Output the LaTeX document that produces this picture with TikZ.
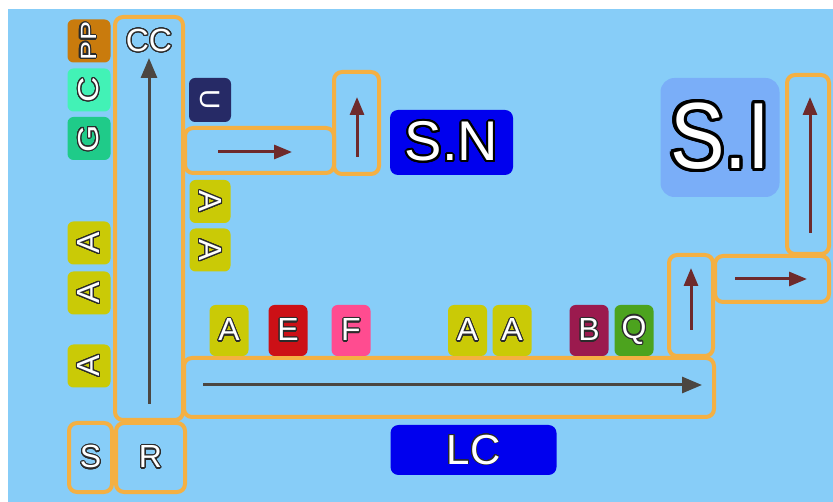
\documentclass[tikz,border=0pt]{standalone}
\usepackage{fontspec}
\setmainfont{Liberation Sans}
\usepackage{graphicx}
\usepackage[copies]{contour}
\usetikzlibrary{arrows.meta}
\contournumber{24}

\definecolor{skyback}{HTML}{87CDF8}
\definecolor{frameorange}{HTML}{F4B043}
\definecolor{outl}{HTML}{2B2B2B}
\definecolor{arrgray}{HTML}{4B4641}
\definecolor{arrred}{HTML}{6E2A2C}
\definecolor{ppcol}{HTML}{C97B0D}
\definecolor{ccol}{HTML}{42F2B6}
\definecolor{gcol}{HTML}{1FCB89}
\definecolor{acol}{HTML}{CACA06}
\definecolor{ucol}{HTML}{262A66}
\definecolor{ecol}{HTML}{CC1016}
\definecolor{fcol}{HTML}{FF4C90}
\definecolor{bcol}{HTML}{9B1A4E}
\definecolor{qcol}{HTML}{4CA31E}
\definecolor{navblue}{HTML}{0000EE}
\definecolor{sicol}{HTML}{7AAEF8}

% outlined white lettering: #1 edge width, #2 edge colour, #3 text
\newcommand\olt[3][1.1pt]{{\contourlength{#1}\contour{#2}{#3}}}
\newcommand\tagsize{\fontsize{32}{32}\selectfont}

\tikzset{
  frame/.style={draw=frameorange, line width=4pt, rounded corners=8pt, inner sep=0pt},
  tag/.style={rounded corners=6pt, inner sep=0pt, text=white, font=\tagsize},
  sidetag/.style={tag, minimum width=43pt, minimum height=43pt},
  rowtag/.style={tag, minimum width=39pt, minimum height=51pt},
  plain/.style={inner sep=0pt, text=white, font=\tagsize},
  flowgray/.style={draw=arrgray, line width=3pt, -{Triangle[length=20pt,width=16pt]}},
  flowred/.style={draw=arrred, line width=3pt, -{Triangle[length=18pt,width=14pt]}},
}

\begin{document}
\begin{tikzpicture}[x=1pt, y=-1pt]
  \useasboundingbox (0,0) rectangle (833,502);
  \fill[white] (0,0) rectangle (833,502);
  \fill[skyback] (8,9) rectangle (833,502);

  % orange frames
  \node[frame, minimum width=68pt, minimum height=403pt] (ccbox) at (149,218.5) {};
  \node[frame, minimum width=43pt, minimum height=69pt] (sbox) at (90.5,457.5) {};
  \node[frame, minimum width=69pt, minimum height=69pt] (rbox) at (150.5,457.5) {};
  \node[frame, minimum width=149pt, minimum height=45pt] (topbar) at (259.5,150.5) {};
  \node[frame, minimum width=45pt, minimum height=102pt] (topup) at (356.5,123) {};
  \node[frame, minimum width=530pt, minimum height=59pt] (lowbar) at (449,387.5) {};
  \node[frame, minimum width=44pt, minimum height=101pt] (rup) at (691,305.5) {};
  \node[frame, minimum width=114pt, minimum height=46pt] (rbar) at (772,279) {};
  \node[frame, minimum width=42pt, minimum height=179pt] (rtall) at (808,164.5) {};

  % frame captions
  \node[plain] (cc) at (149,41) {\olt{outl}{CC}};
  \node[plain] (s) at (sbox) {\olt{outl}{S}};
  \node[plain] (r) at (rbox) {\olt{outl}{R}};

  % left column tags
  \node[sidetag, fill=ppcol, rotate=90] (pp) at (89,41) {\olt{outl}{\fontsize{22}{22}\selectfont\scalebox{1.3}[1]{PP}}};
  \node[sidetag, fill=ccol, rotate=90] (c) at (89,90) {\olt{outl}{\scalebox{1.1}[0.9]{C}}};
  \node[sidetag, fill=gcol, rotate=90] (g) at (89,138.5) {\olt{outl}{\scalebox{1.1}[0.9]{G}}};
  \node[sidetag, fill=acol, rotate=90] (a1) at (89,243) {\olt{outl}{A}};
  \node[sidetag, fill=acol, rotate=90] (a2) at (89,293) {\olt{outl}{A}};
  \node[sidetag, fill=acol, rotate=90] (a3) at (89,366) {\olt{outl}{A}};

  % second column tags
  \node[sidetag, fill=ucol, minimum width=44pt, minimum height=42pt, rotate=-90,
        font=\fontsize{28}{28}\selectfont] (u) at (210,100) {U};
  \node[sidetag, fill=acol, minimum height=41pt, rotate=-90] (a4) at (210,201.5) {\olt{outl}{A}};
  \node[sidetag, fill=acol, minimum height=41pt, rotate=-90] (a5) at (210,250) {\olt{outl}{A}};

  % row of tags above the long bar
  \node[rowtag, fill=acol] (a6) at (229,330.5) {\olt{outl}{A}};
  \node[rowtag, fill=ecol] (e) at (288,330.5) {\olt{outl}{E}};
  \node[rowtag, fill=fcol] (f) at (351,330.5) {\olt{outl}{F}};
  \node[rowtag, fill=acol] (a7) at (467.5,330.5) {\olt{outl}{A}};
  \node[rowtag, fill=acol] (a8) at (512,330.5) {\olt{outl}{A}};
  \node[rowtag, fill=bcol] (b) at (589,330.5) {\olt{outl}{B}};
  \node[rowtag, fill=qcol] (q) at (634,330.5) {\olt{outl}{Q}};

  % titles
  \node[tag, fill=navblue, minimum width=123pt, minimum height=65pt, rounded corners=8pt,
        font=\fontsize{56}{56}\selectfont] (sn) at (451.5,142.5) {\olt[2pt]{black}{S.N}};
  \node[tag, fill=sicol, minimum width=119pt, minimum height=119pt, rounded corners=14pt,
        font=\fontsize{94}{94}\selectfont] (si) at (720,137.5) {\olt[3.2pt]{black}{\scalebox{0.87}[1]{S.I}}};
  \node[tag, fill=navblue, minimum width=166pt, minimum height=50pt, rounded corners=8pt,
        font=\fontsize{42}{42}\selectfont] (lc) at (473.5,450) {\olt[0.9pt]{outl}{LC}};

  % arrow end points
  \coordinate (cc-from) at (149,404);
  \coordinate (cc-to) at (149,58);
  \coordinate (tb-from) at (218,152);
  \coordinate (tb-to) at (292,152);
  \coordinate (tu-from) at (357,157);
  \coordinate (tu-to) at (357,97);
  \coordinate (lb-from) at (203,385);
  \coordinate (lb-to) at (702,385);
  \coordinate (ru-from) at (691,330);
  \coordinate (ru-to) at (691,268);
  \coordinate (rb-from) at (735,279);
  \coordinate (rb-to) at (807,279);
  \coordinate (rt-from) at (810,233);
  \coordinate (rt-to) at (810,97);

  % arrows
  \draw[flowgray] (cc-from) -- (cc-to);
  \draw[flowgray] (lb-from) -- (lb-to);
  \draw[flowred] (tb-from) -- (tb-to);
  \draw[flowred] (tu-from) -- (tu-to);
  \draw[flowred] (ru-from) -- (ru-to);
  \draw[flowred] (rb-from) -- (rb-to);
  \draw[flowred] (rt-from) -- (rt-to);
\end{tikzpicture}
\end{document}
